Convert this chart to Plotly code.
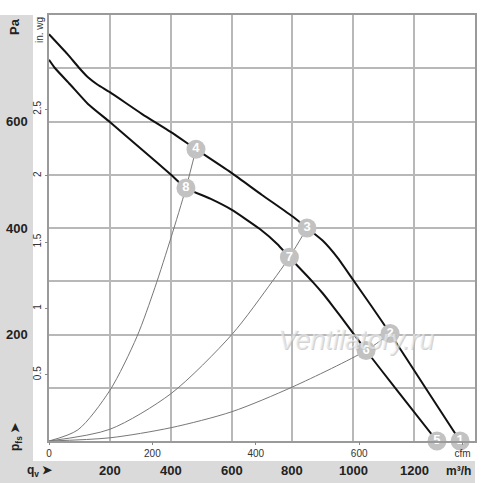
import plotly.graph_objects as go

# ---------------- data ----------------
# fan curve, upper speed (points 4-3-2-1)
upper_q = [0, 60, 100, 128, 160, 200, 306, 401, 483, 601, 700, 802, 848, 900, 950, 1000, 1060, 1121, 1229, 1351]
upper_p = [764, 727, 700, 683, 669, 655, 614, 580, 548, 503, 462, 421, 400, 376, 343, 302, 253, 202, 107, 0]
# fan curve, lower speed (points 8-7-6-5)
lower_q = [0, 20, 69, 128, 200, 306, 401, 450, 530, 601, 693, 750, 790, 868, 900, 933, 979, 1042, 1144, 1275]
lower_p = [716, 700, 670, 633, 599, 547, 500, 475, 455, 434, 398, 370, 345, 298, 277, 253, 218, 170, 95, 0]
# system curves through the operating points
sysA_q = [0, 95, 200, 289, 348, 401, 450, 483]
sysA_p = [0, 21, 95, 196, 288, 382, 475, 548]
sysB_q = [0, 200, 401, 601, 733, 790, 848]
sysB_p = [0, 22, 89, 200, 299, 345, 400]
sysC_q = [0, 200, 401, 601, 802, 1042, 1121]
sysC_p = [0, 6, 25, 55, 102, 170, 202]
# numbered operating points
pt_label = ["1", "2", "3", "4", "5", "6", "7", "8"]
pt_q = [1351, 1121, 848, 483, 1275, 1042, 790, 450]
pt_p = [0, 202, 400, 548, 0, 170, 345, 475]
# axis ticks
pa_ticks = [200, 400, 600]
qv_ticks = [200, 400, 600, 800, 1000, 1200]
inwg_ticks = [0.5, 1, 1.5, 2, 2.5]
cfm_ticks = [0, 200, 400, 600, 800]
cfm_text = ["0", "200", "400", "600", "cfm"]

PA_PER_INWG = 249.089
M3H_PER_CFM = 1.69901
Q_MAX, P_MAX = 1400, 800

FONT = "Arial, Liberation Sans, sans-serif"
W, H = 500, 483
ML, MR, MT, MB = 49, 25, 15, 42
PW, PH = W - ML - MR, H - MT - MB


def px_x(p):  # pixel x -> paper
    return (p - ML) / PW


def px_y(p):  # pixel y -> paper
    return (H - MB - p) / PH


fig = go.Figure()

for q, p in [(sysA_q, sysA_p), (sysB_q, sysB_p), (sysC_q, sysC_p)]:
    fig.add_trace(go.Scatter(x=q, y=p, mode="lines",
                             line=dict(color="#777777", width=1, shape="spline", smoothing=0.8),
                             hoverinfo="skip", showlegend=False))

for q, p in [(upper_q, upper_p), (lower_q, lower_p)]:
    fig.add_trace(go.Scatter(x=q, y=p, mode="lines",
                             line=dict(color="#111111", width=2, shape="spline", smoothing=0.5),
                             hoverinfo="skip", showlegend=False))

fig.add_trace(go.Scatter(x=pt_q, y=pt_p, mode="markers+text", text=pt_label,
                         textposition="middle center",
                         textfont=dict(family=FONT, size=13, color="white", weight="bold"),
                         marker=dict(size=19, color="#c2c2c2", line=dict(width=0)),
                         cliponaxis=False, hoverinfo="skip", showlegend=False))

# empty traces so the secondary axes are drawn
fig.add_trace(go.Scatter(x=[None], y=[None], xaxis="x2", yaxis="y", showlegend=False))
fig.add_trace(go.Scatter(x=[None], y=[None], xaxis="x", yaxis="y2", showlegend=False))

grid = "#b8b8b8"
fig.update_layout(
    width=W, height=H, autosize=False,
    margin=dict(l=ML, r=MR, t=MT, b=MB, autoexpand=False),
    paper_bgcolor="white", plot_bgcolor="white",
    font=dict(family=FONT, color="#222"),
    xaxis=dict(range=[0, Q_MAX], dtick=200, tick0=0, showgrid=True, gridcolor=grid, gridwidth=2,
               showticklabels=False, ticks="", zeroline=False, automargin=False,
               showline=True, linecolor="#9a9a9a", linewidth=1.5, mirror=True, fixedrange=True),
    yaxis=dict(range=[0, P_MAX], dtick=100, tick0=0, showgrid=True, gridcolor=grid, gridwidth=1.5,
               showticklabels=False, ticks="", zeroline=False, automargin=False,
               showline=True, linecolor="#9a9a9a", linewidth=1.5, mirror=True, fixedrange=True),
    xaxis2=dict(range=[0, Q_MAX / M3H_PER_CFM], overlaying="x", anchor="y", side="bottom",
                tickvals=cfm_ticks, ticktext=cfm_text, showgrid=False, zeroline=False, automargin=False,
                ticks="outside", ticklen=3, tickcolor="#888", tickwidth=1,
                tickfont=dict(family=FONT, size=10, color="#333"), showline=False),
    yaxis2=dict(range=[0, P_MAX / PA_PER_INWG], overlaying="y", anchor="x", side="left",
                tickvals=inwg_ticks, ticktext=[str(v) for v in inwg_ticks], tickangle=-90,
                showgrid=False, zeroline=False, automargin=False,
                ticks="outside", ticklen=3, tickcolor="#888", tickwidth=1,
                tickfont=dict(family=FONT, size=10, color="#333"), showline=False),
)

# grey strips
fig.add_shape(type="rect", xref="paper", yref="paper", layer="below",
              x0=px_x(0), x1=px_x(33), y0=px_y(H), y1=px_y(15),
              fillcolor="#dadada", line=dict(width=0))
fig.add_shape(type="rect", xref="paper", yref="paper", layer="below",
              x0=px_x(0), x1=px_x(475), y0=px_y(H), y1=px_y(461),
              fillcolor="#dadada", line=dict(width=0))

ann = []
for v in pa_ticks:
    ann.append(dict(xref="paper", yref="y", x=px_x(17), y=v, text=f"<b>{v}</b>", showarrow=False,
                    xanchor="center", yanchor="middle", font=dict(family=FONT, size=13, color="#222")))
for v in qv_ticks:
    ann.append(dict(xref="x", yref="paper", x=v, y=px_y(471), text=f"<b>{v}</b>", showarrow=False,
                    xanchor="center", yanchor="middle", font=dict(family=FONT, size=13, color="#222")))
ann.append(dict(xref="paper", yref="paper", x=px_x(458), y=px_y(471), text="<b>m³/h</b>", showarrow=False,
                xanchor="center", yanchor="middle", font=dict(family=FONT, size=12, color="#222")))
ann.append(dict(xref="paper", yref="paper", x=px_x(15), y=px_y(27), text="<b>Pa</b>", showarrow=False,
                textangle=-90, xanchor="center", yanchor="middle",
                font=dict(family=FONT, size=13, color="#222")))
ann.append(dict(xref="paper", yref="paper", x=px_x(40), y=px_y(30), text="in. wg", showarrow=False,
                textangle=-90, xanchor="center", yanchor="middle",
                font=dict(family=FONT, size=10, color="#333")))
ann.append(dict(xref="paper", yref="paper", x=px_x(16), y=px_y(437), text="<b>p<sub>fs</sub> ➤</b>",
                showarrow=False, textangle=-90, xanchor="center", yanchor="middle",
                font=dict(family=FONT, size=12, color="#222")))
ann.append(dict(xref="paper", yref="paper", x=px_x(40), y=px_y(471), text="<b>q<sub>v</sub> ➤</b>",
                showarrow=False, xanchor="center", yanchor="middle",
                font=dict(family=FONT, size=12, color="#222")))
ann.append(dict(xref="x", yref="y", x=1009, y=190, text="<i>Ventilatory.ru</i>", showarrow=False,
                xanchor="center", yanchor="middle",
                font=dict(family=FONT, size=27, color="rgba(240,240,240,0.6)",
                          shadow="1px 1px 0px #b4b4b4")))
fig.update_layout(annotations=ann)

fig.write_html("out.html", config={"displayModeBar": False},
               post_script="document.body.style.margin='0px';document.body.style.overflow='hidden';")
